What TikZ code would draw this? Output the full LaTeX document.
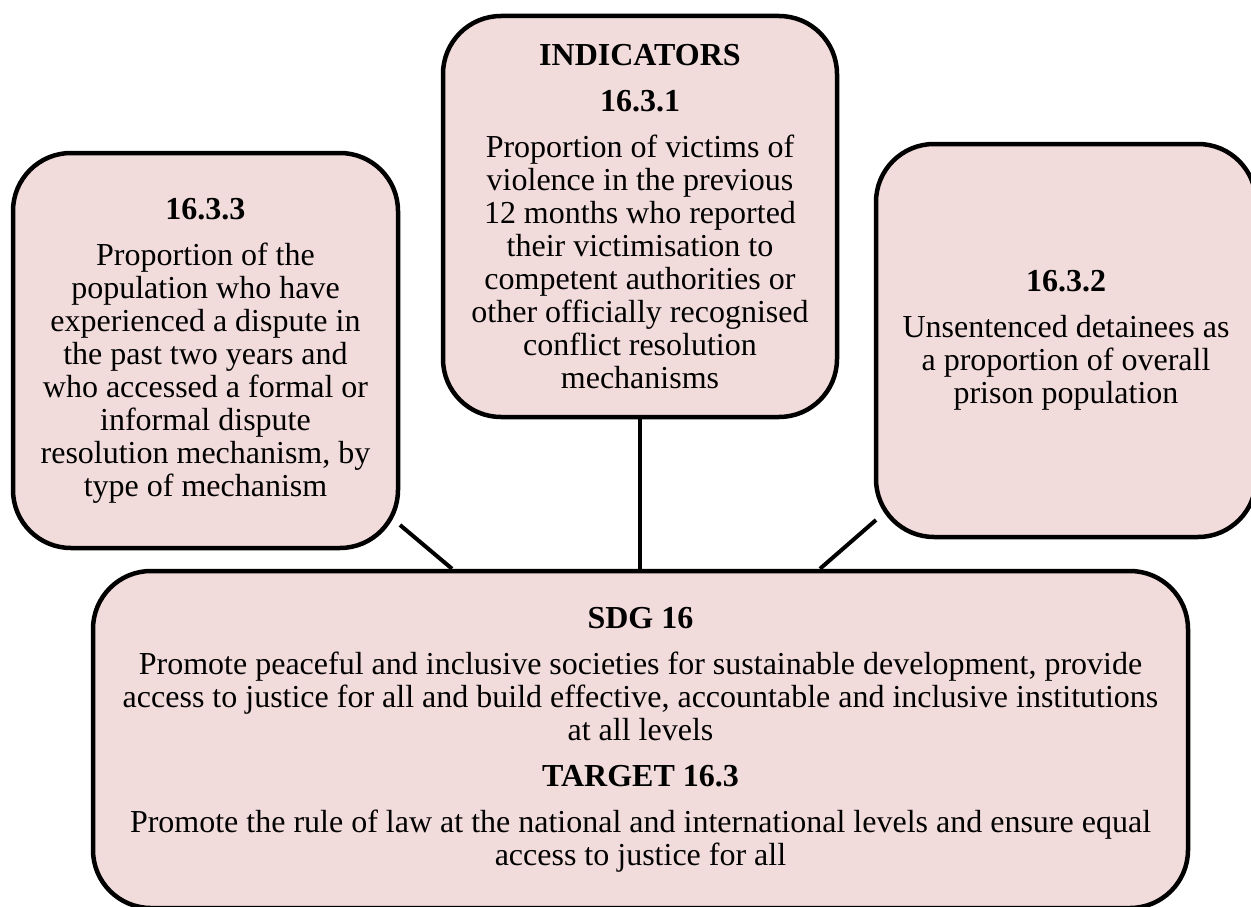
\documentclass[tikz,border=0pt]{standalone}
\usepackage{fontspec}
\setmainfont{Liberation Serif}
\usetikzlibrary{positioning}
\definecolor{boxpink}{RGB}{242,220,219}
\tikzset{
    box/.style={draw, line width=4.5pt, fill=boxpink, rectangle, rounded corners=58pt, align=center,
        font=\fontsize{32}{33}\selectfont},
    link/.style={line width=4pt}
}

\begin{document}
\begin{tikzpicture}[x=1pt,y=-1pt]
    \useasboundingbox (0,0) rectangle (1251,907);

    \node[box, minimum width=394pt, minimum height=401pt] (ind) at (640,216.5)
        {\textbf{INDICATORS}\\[13pt]\textbf{16.3.1}\\[13pt]Proportion of victims of\\violence in the previous\\12 months who reported\\their victimisation to\\competent authorities or\\other officially recognised\\conflict resolution\\mechanisms};
    \node[box, minimum width=385pt, minimum height=395pt] (left) at (205.5,350.5)
        {\textbf{16.3.3}\\[13pt]Proportion of the\\population who have\\experienced a dispute in\\the past two years and\\who accessed a formal or\\informal dispute\\resolution mechanism, by\\type of mechanism};
    \node[box, minimum width=380pt, minimum height=393pt] (right) at (1066,340.5)
        {\textbf{16.3.2}\\[13pt]Unsentenced detainees as\\a proportion of overall\\prison population};
    \node[box, minimum width=1095pt, minimum height=337pt] (sdg) at (640.5,739.5)
        {\textbf{SDG 16}\\[13pt]Promote peaceful and inclusive societies for sustainable development, provide\\access to justice for all and build effective, accountable and inclusive institutions\\at all levels\\[13pt]\textbf{TARGET 16.3}\\[13pt]Promote the rule of law at the national and international levels and ensure equal\\access to justice for all};

    \coordinate (lfoot) at (400,525);
    \coordinate (rfoot) at (876,520);
    \draw[link] (lfoot) -- (452,0 |- sdg.north);
    \draw[link] (ind.south) -- (ind.south |- sdg.north);
    \draw[link] (rfoot) -- (820,0 |- sdg.north);
\end{tikzpicture}
\end{document}
